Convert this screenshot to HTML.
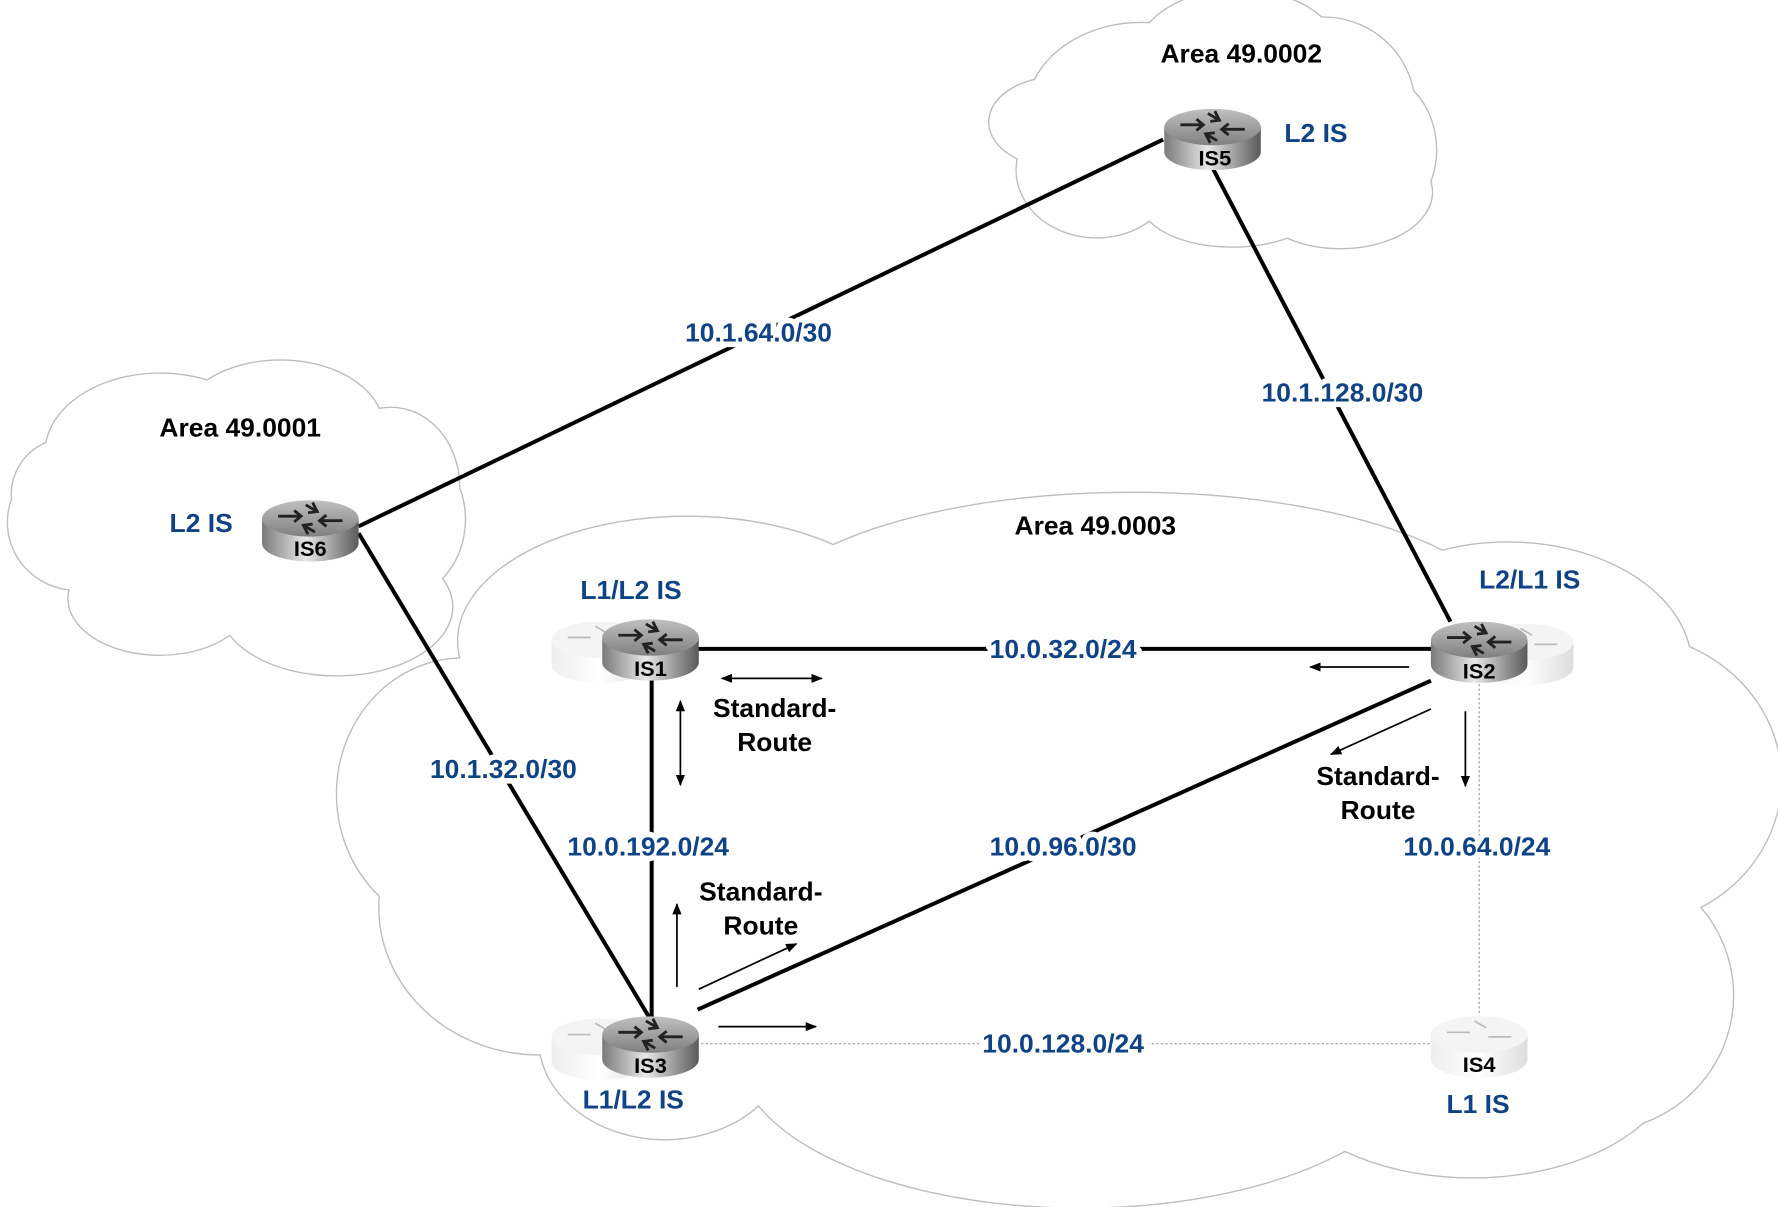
<!DOCTYPE html>
<html><head><meta charset="utf-8"><style>
html,body{margin:0;padding:0;background:#fff;width:1778px;height:1207px;overflow:hidden}
svg{display:block}
.t{font-family:"Liberation Sans",Arial,sans-serif;font-weight:bold;font-size:23px}
.b{fill:#0f4387}
.k{fill:#000}
.w{stroke:#fff;stroke-width:10px;paint-order:stroke;stroke-linejoin:round}
</style></head><body>
<svg width="1778" height="1207" viewBox="0 0 1547 1064" preserveAspectRatio="none" xmlns="http://www.w3.org/2000/svg">
<defs>
<marker id="ah" markerWidth="10" markerHeight="8" refX="9" refY="4" orient="auto" markerUnits="userSpaceOnUse"><path d="M0,0 L10,4 L0,8 z" fill="#000"/></marker>
<marker id="as" markerWidth="10" markerHeight="8" refX="1" refY="4" orient="auto" markerUnits="userSpaceOnUse"><path d="M10,0 L0,4 L10,8 z" fill="#000"/></marker>
<linearGradient id="side" x1="0" x2="1" y1="0" y2="0"><stop offset="0" stop-color="#7a7a7a"/><stop offset="0.45" stop-color="#e8e8e8"/><stop offset="1" stop-color="#5a5a5a"/></linearGradient>
<linearGradient id="top" x1="0" x2="0" y1="0" y2="1"><stop offset="0" stop-color="#c0c0c0"/><stop offset="1" stop-color="#808080"/></linearGradient>
<linearGradient id="fside" x1="0" x2="1"><stop offset="0" stop-color="#eee"/><stop offset="0.5" stop-color="#fff"/><stop offset="1" stop-color="#ddd"/></linearGradient>
<g id="rt">
<path d="M-42,-10 L-42,12 A42,16 0 0 0 42,12 L42,-10 Z" fill="url(#side)"/>
<ellipse cx="0" cy="-10" rx="42" ry="16" fill="url(#top)"/>
<g stroke="#222" stroke-width="2.5" fill="none"><path d="M-28,-12 L-8,-12 M-14,-17 L-8,-12 L-14,-7"/><path d="M28,-8 L8,-8 M14,-13 L8,-8 L14,-3"/><path d="M-4,-22 L6,-16 M2,-24 L6,-16 L-2,-15"/><path d="M4,2 L-6,-4 M-2,4 L-6,-4 L2,-5"/></g>
</g>
<g id="frt">
<path d="M-42,-10 L-42,12 A42,16 0 0 0 42,12 L42,-10 Z" fill="url(#fside)"/>
<ellipse cx="0" cy="-10" rx="42" ry="16" fill="#f4f4f4"/>
<g stroke="#bbb" stroke-width="1.5" fill="none"><path d="M-28,-12 L-8,-12"/><path d="M28,-8 L8,-8"/><path d="M-4,-22 L6,-16"/></g>
</g>
</defs>
<!-- clouds -->
<g fill="#fff" stroke="#bdbdbd" stroke-width="1.2">
<path d="M725,480 A330,120 0 0 1 1255,485 A160,110 0 0 1 1470,570 A140,130 0 0 1 1480,800 A120,120 0 0 1 1430,990 A180,110 0 0 1 1170,1015 A300,140 0 0 1 660,975 A110,90 0 0 1 470,930 A140,130 0 0 1 330,790 A110,120 0 0 1 400,580 A200,110 0 0 1 725,480 Z"/>
<path d="M900,70 A100,80 0 0 1 1000,20 A90,60 0 0 1 1150,15 A80,80 0 0 1 1230,80 A60,70 0 0 1 1245,160 A80,50 0 0 1 1120,210 A80,40 0 0 1 1000,195 A70,60 0 0 1 885,140 A60,40 0 0 1 900,70 Z"/>
<path d="M40,390 A100,70 0 0 1 180,335 A90,60 0 0 1 330,360 A60,70 0 0 1 400,430 A60,70 0 0 1 385,510 A100,60 0 0 1 200,560 A80,50 0 0 1 60,520 A60,60 0 0 1 10,440 A50,50 0 0 1 40,390 Z"/>
</g>
<!-- links -->
<g stroke="#000" stroke-width="3.5" fill="none">
<line x1="1012" y1="123" x2="312" y2="464"/>
<line x1="1055" y1="148" x2="1262" y2="548"/>
<line x1="312" y1="470" x2="565" y2="897"/>
<line x1="606" y1="572" x2="1248" y2="572"/>
<line x1="567" y1="595" x2="567" y2="897"/>
<line x1="607" y1="890" x2="1245" y2="600"/>
</g>
<g stroke="#999" stroke-width="1" stroke-dasharray="2,2">
<line x1="610" y1="920" x2="1245" y2="920"/>
<line x1="1287" y1="595" x2="1287" y2="895"/>
</g>
<!-- arrows -->
<g stroke="#000" stroke-width="1.5">
<line x1="628" y1="598" x2="715" y2="598" marker-end="url(#ah)" marker-start="url(#as)"/>
<line x1="592" y1="618" x2="592" y2="692" marker-end="url(#ah)" marker-start="url(#as)"/>
<line x1="1226" y1="588" x2="1140" y2="588" marker-end="url(#ah)"/>
<line x1="1245" y1="625" x2="1158" y2="665" marker-end="url(#ah)"/>
<line x1="1275" y1="627" x2="1275" y2="693" marker-end="url(#ah)"/>
<line x1="589" y1="870" x2="589" y2="797" marker-end="url(#ah)"/>
<line x1="608" y1="872" x2="693" y2="832" marker-end="url(#ah)"/>
<line x1="625" y1="905" x2="710" y2="905" marker-end="url(#ah)"/>
</g>
<!-- routers -->
<use href="#frt" x="522" y="574"/><use href="#rt" x="566" y="572"/>
<use href="#frt" x="1327" y="576"/><use href="#rt" x="1287" y="574"/>
<use href="#frt" x="522" y="924"/><use href="#rt" x="566" y="922"/>
<use href="#frt" x="1287" y="922"/>
<use href="#rt" x="1055" y="122"/>
<use href="#rt" x="270" y="467"/>
<g class="t" style="font-size:19px" text-anchor="middle">
<text x="566" y="596" class="k">IS1</text><text x="1287" y="598" class="k">IS2</text><text x="566" y="946" class="k">IS3</text><text x="1287" y="945" class="k">IS4</text><text x="1057" y="146" class="k">IS5</text><text x="270" y="490" class="k">IS6</text>
</g>
<!-- labels -->
<g class="t" text-anchor="middle">
<text x="1080" y="55" class="k">Area 49.0002</text>
<text x="209" y="385" class="k">Area 49.0001</text>
<text x="953" y="471" class="k">Area 49.0003</text>
<text x="1145" y="125" class="b">L2 IS</text>
<text x="175" y="469" class="b">L2 IS</text>
<text x="549" y="528" class="b">L1/L2 IS</text>
<text x="1331" y="519" class="b">L2/L1 IS</text>
<text x="551" y="977" class="b">L1/L2 IS</text>
<text x="1286" y="981" class="b">L1 IS</text>
<text x="660" y="301" class="b w">10.1.64.0/30</text>
<text x="1168" y="354" class="b w">10.1.128.0/30</text>
<text x="438" y="686" class="b w">10.1.32.0/30</text>
<text x="925" y="580" class="b w">10.0.32.0/24</text>
<text x="564" y="754" class="b w">10.0.192.0/24</text>
<text x="925" y="754" class="b w">10.0.96.0/30</text>
<text x="1285" y="754" class="b w">10.0.64.0/24</text>
<text x="925" y="928" class="b w">10.0.128.0/24</text>
<text x="674" y="632" class="k">Standard-</text>
<text x="674" y="662" class="k">Route</text>
<text x="1199" y="692" class="k">Standard-</text>
<text x="1199" y="722" class="k">Route</text>
<text x="662" y="794" class="k">Standard-</text>
<text x="662" y="824" class="k">Route</text>
</g>
</svg>
</body></html>
